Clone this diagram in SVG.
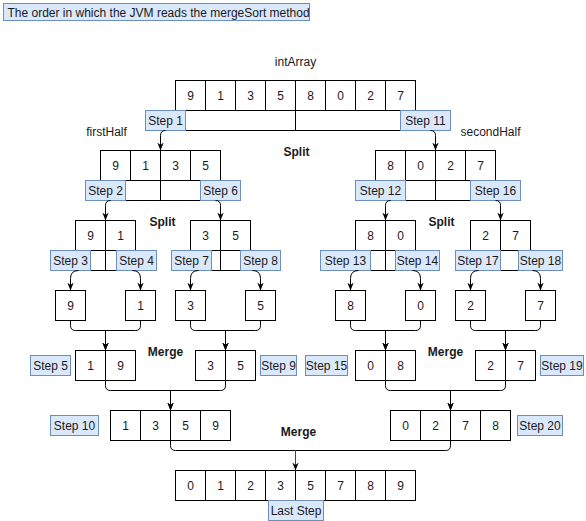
<svg xmlns="http://www.w3.org/2000/svg" width="586" height="521" viewBox="0 0 586 521">
<defs>
<style>
.c{fill:#fff;stroke:#000;stroke-width:1}
.s{fill:#dae8fc;stroke:#6c8ebf;stroke-width:1}
text{font-family:"Liberation Sans",Arial,Helvetica,sans-serif;font-size:12px;fill:#1a1a1a}
.m{text-anchor:middle}
.b{font-weight:bold}
.e{fill:none;stroke:#000;stroke-width:1}
</style>
<marker id="arr" viewBox="0 0 10 10" refX="10" refY="5" markerWidth="8" markerHeight="8" markerUnits="userSpaceOnUse" orient="auto">
<path d="M0,1 L10,5 L0,9 L3,5 z" fill="#000"/>
</marker>
</defs>
<rect width="586" height="521" fill="#fff"/>
<g transform="translate(0.5,0.5)">
<g id="title"><rect class="s" x="3" y="3" width="306" height="17"/><text x="7" y="16">The order in which the JVM reads the mergeSort method</text></g>
<g id="labels">
<text class="m" x="295" y="65">intArray</text>
<text class="m" x="106" y="135">firstHalf</text>
<text class="m" x="490" y="135">secondHalf</text>
<text class="m b" x="296" y="155">Split</text>
<text class="m b" x="162" y="225">Split</text>
<text class="m b" x="441" y="225">Split</text>
<text class="m b" x="165" y="355">Merge</text>
<text class="m b" x="445" y="355">Merge</text>
<text class="m b" x="298" y="435">Merge</text>
</g>
<g id="intArray">
<rect class="c" x="175" y="80" width="30" height="30"/><rect class="c" x="205" y="80" width="30" height="30"/><rect class="c" x="235" y="80" width="30" height="30"/><rect class="c" x="265" y="80" width="30" height="30"/><rect class="c" x="295" y="80" width="30" height="30"/><rect class="c" x="325" y="80" width="30" height="30"/><rect class="c" x="355" y="80" width="30" height="30"/><rect class="c" x="385" y="80" width="30" height="30"/>
<rect class="c" x="175" y="110" width="120" height="20"/><rect class="c" x="295" y="110" width="120" height="20"/>
<text class="m" x="190" y="99">9</text><text class="m" x="220" y="99">1</text><text class="m" x="250" y="99">3</text><text class="m" x="280" y="99">5</text><text class="m" x="310" y="99">8</text><text class="m" x="340" y="99">0</text><text class="m" x="370" y="99">2</text><text class="m" x="400" y="99">7</text>
</g>
<g id="firstHalf">
<rect class="c" x="100" y="150" width="30" height="30"/><rect class="c" x="130" y="150" width="30" height="30"/><rect class="c" x="160" y="150" width="30" height="30"/><rect class="c" x="190" y="150" width="30" height="30"/>
<rect class="c" x="100" y="180" width="60" height="20"/><rect class="c" x="160" y="180" width="60" height="20"/>
<text class="m" x="115" y="169">9</text><text class="m" x="145" y="169">1</text><text class="m" x="175" y="169">3</text><text class="m" x="205" y="169">5</text>
</g>
<g id="secondHalf">
<rect class="c" x="375" y="150" width="30" height="30"/><rect class="c" x="405" y="150" width="30" height="30"/><rect class="c" x="435" y="150" width="30" height="30"/><rect class="c" x="465" y="150" width="30" height="30"/>
<rect class="c" x="375" y="180" width="60" height="20"/><rect class="c" x="435" y="180" width="60" height="20"/>
<text class="m" x="390" y="169">8</text><text class="m" x="420" y="169">0</text><text class="m" x="450" y="169">2</text><text class="m" x="480" y="169">7</text>
</g>
<g id="split91">
<rect class="c" x="75" y="220" width="30" height="30"/><rect class="c" x="105" y="220" width="30" height="30"/>
<rect class="c" x="75" y="250" width="30" height="20"/><rect class="c" x="105" y="250" width="30" height="20"/>
<text class="m" x="90" y="239">9</text><text class="m" x="120" y="239">1</text>
</g>
<g id="split35">
<rect class="c" x="190" y="220" width="30" height="30"/><rect class="c" x="220" y="220" width="30" height="30"/>
<rect class="c" x="190" y="250" width="30" height="20"/><rect class="c" x="220" y="250" width="30" height="20"/>
<text class="m" x="205" y="239">3</text><text class="m" x="235" y="239">5</text>
</g>
<g id="split80">
<rect class="c" x="355" y="220" width="30" height="30"/><rect class="c" x="385" y="220" width="30" height="30"/>
<rect class="c" x="355" y="250" width="30" height="20"/><rect class="c" x="385" y="250" width="30" height="20"/>
<text class="m" x="370" y="239">8</text><text class="m" x="400" y="239">0</text>
</g>
<g id="split27">
<rect class="c" x="470" y="220" width="30" height="30"/><rect class="c" x="500" y="220" width="30" height="30"/>
<rect class="c" x="470" y="250" width="30" height="20"/><rect class="c" x="500" y="250" width="30" height="20"/>
<text class="m" x="485" y="239">2</text><text class="m" x="515" y="239">7</text>
</g>
<g id="single9"><rect class="c" x="55" y="290" width="30" height="30"/><text class="m" x="70" y="309">9</text></g>
<g id="single1"><rect class="c" x="125" y="290" width="30" height="30"/><text class="m" x="140" y="309">1</text></g>
<g id="single3"><rect class="c" x="175" y="290" width="30" height="30"/><text class="m" x="190" y="309">3</text></g>
<g id="single5"><rect class="c" x="245" y="290" width="30" height="30"/><text class="m" x="260" y="309">5</text></g>
<g id="single8"><rect class="c" x="335" y="290" width="30" height="30"/><text class="m" x="350" y="309">8</text></g>
<g id="single0"><rect class="c" x="405" y="290" width="30" height="30"/><text class="m" x="420" y="309">0</text></g>
<g id="single2"><rect class="c" x="455" y="290" width="30" height="30"/><text class="m" x="470" y="309">2</text></g>
<g id="single7"><rect class="c" x="525" y="290" width="30" height="30"/><text class="m" x="540" y="309">7</text></g>
<g id="merge19"><rect class="c" x="75" y="350" width="30" height="30"/><rect class="c" x="105" y="350" width="30" height="30"/><text class="m" x="90" y="369">1</text><text class="m" x="120" y="369">9</text></g>
<g id="merge35"><rect class="c" x="195" y="350" width="30" height="30"/><rect class="c" x="225" y="350" width="30" height="30"/><text class="m" x="210" y="369">3</text><text class="m" x="240" y="369">5</text></g>
<g id="merge08"><rect class="c" x="355" y="350" width="30" height="30"/><rect class="c" x="385" y="350" width="30" height="30"/><text class="m" x="370" y="369">0</text><text class="m" x="400" y="369">8</text></g>
<g id="merge27"><rect class="c" x="475" y="350" width="30" height="30"/><rect class="c" x="505" y="350" width="30" height="30"/><text class="m" x="490" y="369">2</text><text class="m" x="520" y="369">7</text></g>
<g id="merge1359">
<rect class="c" x="110" y="410" width="30" height="30"/><rect class="c" x="140" y="410" width="30" height="30"/><rect class="c" x="170" y="410" width="30" height="30"/><rect class="c" x="200" y="410" width="30" height="30"/>
<text class="m" x="125" y="429">1</text><text class="m" x="155" y="429">3</text><text class="m" x="185" y="429">5</text><text class="m" x="215" y="429">9</text>
</g>
<g id="merge0278">
<rect class="c" x="390" y="410" width="30" height="30"/><rect class="c" x="420" y="410" width="30" height="30"/><rect class="c" x="450" y="410" width="30" height="30"/><rect class="c" x="480" y="410" width="30" height="30"/>
<text class="m" x="405" y="429">0</text><text class="m" x="435" y="429">2</text><text class="m" x="465" y="429">7</text><text class="m" x="495" y="429">8</text>
</g>
<g id="final">
<rect class="c" x="175" y="470" width="30" height="30"/><rect class="c" x="205" y="470" width="30" height="30"/><rect class="c" x="235" y="470" width="30" height="30"/><rect class="c" x="265" y="470" width="30" height="30"/><rect class="c" x="295" y="470" width="30" height="30"/><rect class="c" x="325" y="470" width="30" height="30"/><rect class="c" x="355" y="470" width="30" height="30"/><rect class="c" x="385" y="470" width="30" height="30"/>
<text class="m" x="190" y="489">0</text><text class="m" x="220" y="489">1</text><text class="m" x="250" y="489">2</text><text class="m" x="280" y="489">3</text><text class="m" x="310" y="489">5</text><text class="m" x="340" y="489">7</text><text class="m" x="370" y="489">8</text><text class="m" x="400" y="489">9</text>
</g>
<g id="step1"><rect class="s" x="145" y="110" width="40" height="20"/><text class="m" x="165" y="124">Step 1</text></g>
<g id="step11"><rect class="s" x="400" y="110" width="50" height="20"/><text class="m" x="425" y="124">Step 11</text></g>
<g id="step2"><rect class="s" x="85" y="180" width="40" height="20"/><text class="m" x="105" y="194">Step 2</text></g>
<g id="step6"><rect class="s" x="200" y="180" width="40" height="20"/><text class="m" x="220" y="194">Step 6</text></g>
<g id="step12"><rect class="s" x="355" y="180" width="50" height="20"/><text class="m" x="380" y="194">Step 12</text></g>
<g id="step16"><rect class="s" x="470" y="180" width="50" height="20"/><text class="m" x="495" y="194">Step 16</text></g>
<g id="step3"><rect class="s" x="50" y="250" width="40" height="20"/><text class="m" x="70" y="264">Step 3</text></g>
<g id="step4"><rect class="s" x="116" y="250" width="40" height="20"/><text class="m" x="136" y="264">Step 4</text></g>
<g id="step7"><rect class="s" x="171" y="250" width="40" height="20"/><text class="m" x="191" y="264">Step 7</text></g>
<g id="step8"><rect class="s" x="240" y="250" width="40" height="20"/><text class="m" x="260" y="264">Step 8</text></g>
<g id="step13"><rect class="s" x="320" y="250" width="50" height="20"/><text class="m" x="345" y="264">Step 13</text></g>
<g id="step14"><rect class="s" x="395" y="250" width="44" height="20"/><text class="m" x="417" y="264">Step 14</text></g>
<g id="step17"><rect class="s" x="455" y="250" width="45" height="20"/><text class="m" x="477.5" y="264">Step 17</text></g>
<g id="step18"><rect class="s" x="518" y="250" width="44" height="20"/><text class="m" x="540" y="264">Step 18</text></g>
<g id="step5"><rect class="s" x="30" y="355" width="40" height="20"/><text class="m" x="50" y="369">Step 5</text></g>
<g id="step9"><rect class="s" x="260" y="355" width="36" height="20"/><text class="m" x="278" y="369">Step 9</text></g>
<g id="step15"><rect class="s" x="305" y="355" width="42" height="20"/><text class="m" x="326" y="369">Step 15</text></g>
<g id="step19"><rect class="s" x="540" y="355" width="43" height="20"/><text class="m" x="561.5" y="369">Step 19</text></g>
<g id="step10"><rect class="s" x="50" y="415" width="48" height="20"/><text class="m" x="74" y="429">Step 10</text></g>
<g id="step20"><rect class="s" x="517" y="415" width="45" height="20"/><text class="m" x="539.5" y="429">Step 20</text></g>
<g id="lastStep"><rect class="s" x="268" y="500" width="55" height="20"/><text class="m" x="295.5" y="514">Last Step</text></g>
<g id="connectors">
<path class="e" marker-end="url(#arr)" d="M165,130 Q160,130 160,135 V150"/>
<path class="e" marker-end="url(#arr)" d="M430,130 Q435,130 435,135 V150"/>
<path class="e" marker-end="url(#arr)" d="M110,200 Q105,200 105,205 V220"/>
<path class="e" marker-end="url(#arr)" d="M215,200 Q220,200 220,205 V220"/>
<path class="e" marker-end="url(#arr)" d="M390,200 Q385,200 385,205 V220"/>
<path class="e" marker-end="url(#arr)" d="M495,200 Q500,200 500,205 V220"/>
<path class="e" marker-end="url(#arr)" d="M78,270 Q70,270 70,278 V290"/>
<path class="e" marker-end="url(#arr)" d="M132,270 Q140,270 140,278 V290"/>
<path class="e" marker-end="url(#arr)" d="M198,270 Q190,270 190,278 V290"/>
<path class="e" marker-end="url(#arr)" d="M252,270 Q260,270 260,278 V290"/>
<path class="e" marker-end="url(#arr)" d="M358,270 Q350,270 350,278 V290"/>
<path class="e" marker-end="url(#arr)" d="M412,270 Q420,270 420,278 V290"/>
<path class="e" marker-end="url(#arr)" d="M478,270 Q470,270 470,278 V290"/>
<path class="e" marker-end="url(#arr)" d="M532,270 Q540,270 540,278 V290"/>
<path class="e" marker-end="url(#arr)" d="M70,320 V325 Q70,330 75,330 H105 V350"/>
<path class="e" marker-end="url(#arr)" d="M140,320 V325 Q140,330 135,330 H105 V350"/>
<path class="e" marker-end="url(#arr)" d="M190,320 V325 Q190,330 195,330 H225 V350"/>
<path class="e" marker-end="url(#arr)" d="M260,320 V325 Q260,330 255,330 H225 V350"/>
<path class="e" marker-end="url(#arr)" d="M350,320 V325 Q350,330 355,330 H385 V350"/>
<path class="e" marker-end="url(#arr)" d="M420,320 V325 Q420,330 415,330 H385 V350"/>
<path class="e" marker-end="url(#arr)" d="M470,320 V325 Q470,330 475,330 H505 V350"/>
<path class="e" marker-end="url(#arr)" d="M540,320 V325 Q540,330 535,330 H505 V350"/>
<path class="e" marker-end="url(#arr)" d="M105,380 V385 Q105,390 110,390 H170 V410"/>
<path class="e" marker-end="url(#arr)" d="M225,380 V385 Q225,390 220,390 H170 V410"/>
<path class="e" marker-end="url(#arr)" d="M385,380 V385 Q385,390 390,390 H450 V410"/>
<path class="e" marker-end="url(#arr)" d="M505,380 V385 Q505,390 500,390 H450 V410"/>
<path class="e" d="M170,440 V445 Q170,450 175,450 H295"/>
<path class="e" d="M450,440 V445 Q450,450 445,450 H295"/>
<path class="e" style="stroke:#444" marker-end="url(#arr)" d="M295,450 V470"/>
</g>
</g>
</svg>
